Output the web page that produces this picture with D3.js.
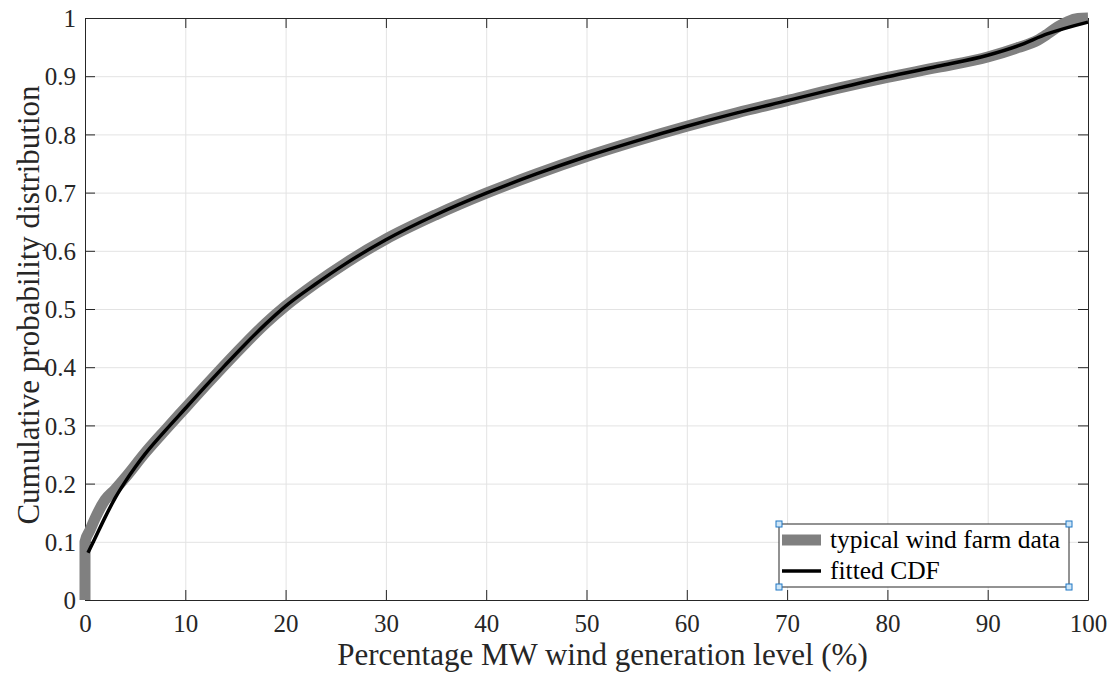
<!DOCTYPE html>
<html>
<head>
<meta charset="utf-8">
<script src="https://cdn.jsdelivr.net/npm/d3@7"></script>
<style>
    body { margin: 0; background: #fff; }
    svg text { font-family: "Liberation Serif", "Times New Roman", serif; }
</style>
</head>
<body>
<svg id="chart"></svg>
<script>
'use strict';

// typical wind farm data (empirical CDF)
var dataX = [0, 0, 0.5, 1, 2, 3, 4, 6, 8, 10, 12, 14, 16, 18, 20, 23, 26, 30, 35, 40, 45, 50, 55, 60, 65, 70, 75, 80, 85, 90, 93, 95, 96, 97, 98, 99, 100];
var dataY = [0, 0.1, 0.12, 0.14, 0.172, 0.19, 0.21, 0.253, 0.292, 0.33, 0.368, 0.405, 0.441, 0.475, 0.505, 0.544, 0.579, 0.62, 0.662, 0.699, 0.732, 0.762, 0.789, 0.814, 0.837, 0.858, 0.879, 0.898, 0.915, 0.933, 0.949, 0.962, 0.973, 0.985, 0.994, 0.999, 1.0];

// fitted CDF
var fitX = [0.3, 1, 2, 3, 4, 5, 6, 8, 10, 12, 14, 16, 18, 20, 23, 26, 30, 35, 40, 45, 50, 55, 60, 65, 70, 75, 80, 85, 90, 93, 96, 100];
var fitY = [0.081, 0.106, 0.142, 0.175, 0.203, 0.228, 0.251, 0.291, 0.329, 0.367, 0.404, 0.44, 0.474, 0.505, 0.543, 0.578, 0.619, 0.662, 0.699, 0.732, 0.762, 0.789, 0.814, 0.837, 0.858, 0.879, 0.899, 0.917, 0.936, 0.952, 0.973, 0.993];

var xTicks = [0, 10, 20, 30, 40, 50, 60, 70, 80, 90, 100];
var yTicks = [0, 0.1, 0.2, 0.3, 0.4, 0.5, 0.6, 0.7, 0.8, 0.9, 1];
var yTickLabels = ["0", "0.1", "0.2", "0.3", "0.4", "0.5", "0.6", "0.7", "0.8", "0.9", "1"];

var seriesNames = ["typical wind farm data", "fitted CDF"];

function draw_chart() {
    var width = 1114,
        height = 677,
        margin = {left: 85, top: 18, right: 26, bottom: 77},
        w = width - margin.left - margin.right,
        h = height - margin.top - margin.bottom;

    var axisColor = "#262626";
    var serif = "'Liberation Serif', 'Times New Roman', serif";

    var x = d3.scaleLinear().domain([0, 100]).range([0, w]);
    var y = d3.scaleLinear().domain([0, 1]).range([h, 0]);

    var svg = d3.select("#chart")
                    .attr("width", width)
                    .attr("height", height);

    var g = svg.append("g")
                .attr("transform", "translate(" + margin.left + "," + margin.top + ")");

    // grid
    g.append("g")
        .attr("class", "grid")
        .attr("transform", "translate(0," + h + ")")
        .call(d3.axisBottom(x).tickValues(xTicks).tickSize(-h).tickFormat(""));
    g.append("g")
        .attr("class", "grid")
        .call(d3.axisLeft(y).tickValues(yTicks).tickSize(-w).tickFormat(""));
    g.selectAll(".grid line").attr("stroke", "#e3e3e3").attr("stroke-width", 1);
    g.selectAll(".grid .domain").remove();

    // box axes with inward ticks
    var bottom = g.append("g")
        .attr("transform", "translate(0," + h + ")")
        .call(d3.axisBottom(x).tickValues(xTicks).tickSizeInner(-10).tickSizeOuter(0).tickPadding(14));
    var left = g.append("g")
        .call(d3.axisLeft(y).tickValues(yTicks).tickSizeInner(-10).tickSizeOuter(0).tickPadding(9)
              .tickFormat(function(d, i) { return yTickLabels[i]; }));
    var top = g.append("g")
        .call(d3.axisTop(x).tickValues(xTicks).tickSizeInner(-10).tickSizeOuter(0).tickFormat(""));
    var right = g.append("g")
        .attr("transform", "translate(" + w + ",0)")
        .call(d3.axisRight(y).tickValues(yTicks).tickSizeInner(-10).tickSizeOuter(0).tickFormat(""));

    [bottom, left, top, right].forEach(function(a) {
        a.attr("font-family", serif).attr("font-size", 25);
        a.selectAll("path").attr("stroke", axisColor).attr("stroke-width", 1);
        a.selectAll("line").attr("stroke", axisColor).attr("stroke-width", 1);
        a.selectAll("text").attr("fill", "#262626");
    });
    bottom.selectAll(".tick text").attr("dy", "0.71em");
    left.selectAll(".tick text").attr("dy", "0.35em");

    // data lines
    var dataPts = dataX.map(function(d, i) { return [d, dataY[i]]; });
    var fitPts = fitX.map(function(d, i) { return [d, fitY[i]]; });

    var line = d3.line()
                .curve(d3.curveMonotoneX)
                .x(function(d) { return x(d[0]); })
                .y(function(d) { return y(d[1]); });

    g.append("path")
        .datum(dataPts)
        .attr("d", line)
        .attr("fill", "none")
        .attr("stroke", "#808080")
        .attr("stroke-width", 11)
        .attr("stroke-linejoin", "round");

    g.append("path")
        .datum(fitPts)
        .attr("d", line)
        .attr("fill", "none")
        .attr("stroke", "#000")
        .attr("stroke-width", 3.5)
        .attr("stroke-linejoin", "round");

    // axis labels
    svg.append("text")
        .attr("x", margin.left + w / 2 + 16)
        .attr("y", 665)
        .attr("text-anchor", "middle")
        .attr("fill", "#262626")
        .style("font-size", "31px")
        .text("Percentage MW wind generation level (%)");

    svg.append("text")
        .attr("transform", "translate(39," + (margin.top + h / 2 - 4) + ") rotate(-90)")
        .attr("text-anchor", "middle")
        .attr("fill", "#262626")
        .style("font-size", "31px")
        .text("Cumulative probability distribution");

    // legend
    var lx = 779, ly = 524, lw = 290, lh = 63;
    var legend = svg.append("g");
    legend.append("rect")
        .attr("x", lx).attr("y", ly)
        .attr("width", lw).attr("height", lh)
        .attr("fill", "#fff")
        .attr("stroke", axisColor)
        .attr("stroke-width", 1);

    var swatch = [{color: "#808080", width: 11}, {color: "#000", width: 3.5}];
    seriesNames.forEach(function(name, i) {
        var cy = ly + 16 + i * 31;
        legend.append("line")
            .attr("x1", lx + 3).attr("x2", lx + 42)
            .attr("y1", cy).attr("y2", cy)
            .attr("stroke", swatch[i].color)
            .attr("stroke-width", swatch[i].width);
        legend.append("text")
            .attr("x", lx + 51)
            .attr("y", cy)
            .attr("dy", "0.33em")
            .attr("fill", "#000")
            .style("font-size", "25.5px")
            .text(name);
    });

    // selection handles on the legend corners
    [[lx, ly], [lx + lw, ly], [lx, ly + lh], [lx + lw, ly + lh]].forEach(function(p) {
        legend.append("rect")
            .attr("x", p[0] - 3).attr("y", p[1] - 3)
            .attr("width", 6).attr("height", 6)
            .attr("fill", "#cfe6f7")
            .attr("stroke", "#1f77c4")
            .attr("stroke-width", 1);
    });
}

draw_chart();
</script>
</body>
</html>
